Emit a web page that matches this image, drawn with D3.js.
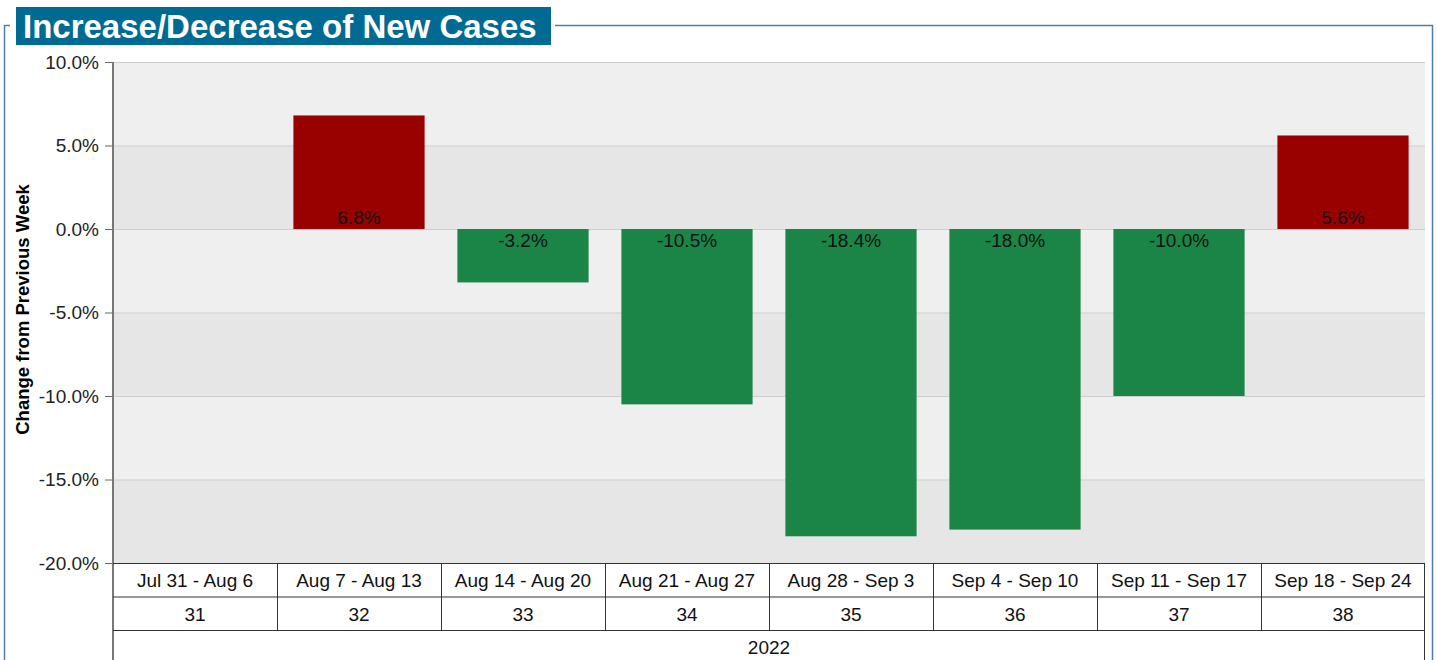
<!DOCTYPE html>
<html>
<head>
<meta charset="utf-8">
<script src="https://cdn.jsdelivr.net/npm/d3@7"></script>
<style>
  body { margin: 0; background: #fff; }
  svg { display: block; font-family: Arial, "Liberation Sans", sans-serif; }
</style>
</head>
<body>
<div id="chart"></div>
<script>
// data
var weeks = ["Jul 31 - Aug 6", "Aug 7 - Aug 13", "Aug 14 - Aug 20", "Aug 21 - Aug 27",
  "Aug 28 - Sep 3", "Sep 4 - Sep 10", "Sep 11 - Sep 17", "Sep 18 - Sep 24"];
var weekNumbers = ["31", "32", "33", "34", "35", "36", "37", "38"];
var changes = [null, 6.8, -3.2, -10.5, -18.4, -18.0, -10.0, 5.6];
var year = "2022";
var yTicks = [10, 5, 0, -5, -10, -15, -20];

var width = 1437, height = 660;
var margin = { top: 62, right: 12, bottom: 97, left: 113 };
var plotW = width - margin.left - margin.right,
  plotH = height - margin.top - margin.bottom;
var fontSize = 19;

var svg = d3.select("#chart").append("svg")
  .attr("width", width)
  .attr("height", height);

// outer frame with title
var frameColor = "#4f7db3";
svg.append("path")
  .attr("d", "M4.5,700 L4.5,25.5 L10,25.5 M555,25.5 L1432.5,25.5 L1432.5,700")
  .attr("fill", "none")
  .attr("stroke", frameColor)
  .attr("stroke-width", 1.5);
svg.append("rect")
  .attr("x", 16).attr("y", 7)
  .attr("width", 535).attr("height", 38)
  .attr("fill", "#006a92");
svg.append("text")
  .attr("x", 23).attr("y", 38)
  .attr("fill", "#fff")
  .attr("font-size", 33)
  .attr("font-weight", "bold")
  .text("Increase/Decrease of New Cases");

var g = svg.append("g")
  .attr("transform", "translate(" + margin.left + "," + margin.top + ")");

var x = d3.scaleBand()
  .domain(weeks)
  .range([0, plotW]);

var y = d3.scaleLinear()
  .domain([-20, 10])
  .range([plotH, 0]);

// alternating bands
var bands = d3.pairs(yTicks);
g.selectAll(".band")
  .data(bands)
  .enter().append("rect")
  .attr("x", 0)
  .attr("width", plotW)
  .attr("y", function (d) { return y(d[0]); })
  .attr("height", function (d) { return y(d[1]) - y(d[0]); })
  .attr("fill", function (d, i) { return i % 2 == 0 ? "#efefef" : "#e6e6e6"; });

// gridlines
g.selectAll(".grid")
  .data(yTicks)
  .enter().append("line")
  .attr("x1", 0).attr("x2", plotW)
  .attr("y1", function (d) { return y(d) + 0.5; })
  .attr("y2", function (d) { return y(d) + 0.5; })
  .attr("stroke", "#cfcfcf");

// bars
var barData = weeks.map(function (w, i) { return { week: w, value: changes[i] }; })
  .filter(function (d) { return d.value != null; });

g.selectAll(".bar")
  .data(barData)
  .enter().append("rect")
  .attr("x", function (d) { return x(d.week) + x.bandwidth() * 0.1; })
  .attr("width", x.bandwidth() * 0.8)
  .attr("y", function (d) { return y(Math.max(0, d.value)); })
  .attr("height", function (d) { return Math.abs(y(d.value) - y(0)); })
  .attr("fill", function (d) { return d.value > 0 ? "#990000" : "#1b8547"; });

g.selectAll(".label")
  .data(barData)
  .enter().append("text")
  .attr("x", function (d) { return x(d.week) + x.bandwidth() / 2; })
  .attr("y", function (d) { return d.value > 0 ? y(0) - 5 : y(0) + 18; })
  .attr("text-anchor", "middle")
  .attr("font-size", fontSize)
  .attr("fill", "#111")
  .text(function (d) { return d.value.toFixed(1) + "%"; });

// y axis
var yAxis = g.append("g")
  .call(d3.axisLeft(y)
    .tickValues(yTicks)
    .tickSize(8)
    .tickSizeOuter(0)
    .tickFormat(function (d) { return d.toFixed(1) + "%"; }));
yAxis.select(".domain").remove();
yAxis.selectAll(".tick line").attr("stroke", "#666");
yAxis.selectAll(".tick text")
  .attr("font-size", fontSize)
  .attr("font-family", "Arial, 'Liberation Sans', sans-serif")
  .attr("fill", "#222")
  .attr("x", -14);

g.append("line")
  .attr("x1", 0).attr("x2", 0)
  .attr("y1", 0).attr("y2", height)
  .attr("stroke", "#777")
  .attr("stroke-width", 2);

svg.append("text")
  .attr("transform", "translate(29," + (margin.top + plotH / 2 - 3) + ") rotate(-90)")
  .attr("text-anchor", "middle")
  .attr("font-size", 18.5)
  .attr("font-weight", "bold")
  .text("Change from Previous Week");

// category table below the plot
var rowH = 33.5;
var table = g.append("g").attr("transform", "translate(0," + plotH + ")");

[0, 1, 2].forEach(function (r) {
  table.append("line")
    .attr("x1", 0).attr("x2", plotW)
    .attr("y1", r * rowH + 0.5).attr("y2", r * rowH + 0.5)
    .attr("stroke", "#333").attr("stroke-width", 1.2);
});

table.selectAll(".col")
  .data(weeks.slice(1))
  .enter().append("line")
  .attr("x1", function (d) { return x(d) + 0.5; })
  .attr("x2", function (d) { return x(d) + 0.5; })
  .attr("y1", 0).attr("y2", rowH * 2)
  .attr("stroke", "#333");

table.append("line")
  .attr("x1", plotW - 0.5).attr("x2", plotW - 0.5)
  .attr("y1", 0).attr("y2", height)
  .attr("stroke", "#333");

table.selectAll(".wk")
  .data(weeks)
  .enter().append("text")
  .attr("x", function (d) { return x(d) + x.bandwidth() / 2; })
  .attr("y", 24)
  .attr("text-anchor", "middle")
  .attr("font-size", fontSize)
  .attr("fill", "#111")
  .text(function (d) { return d; });

table.selectAll(".num")
  .data(weekNumbers)
  .enter().append("text")
  .attr("x", function (d, i) { return x(weeks[i]) + x.bandwidth() / 2; })
  .attr("y", rowH + 24)
  .attr("text-anchor", "middle")
  .attr("font-size", fontSize)
  .attr("fill", "#111")
  .text(function (d) { return d; });

table.append("text")
  .attr("x", plotW / 2)
  .attr("y", rowH * 2 + 24)
  .attr("text-anchor", "middle")
  .attr("font-size", fontSize)
  .attr("fill", "#111")
  .text(year);
</script>
</body>
</html>
